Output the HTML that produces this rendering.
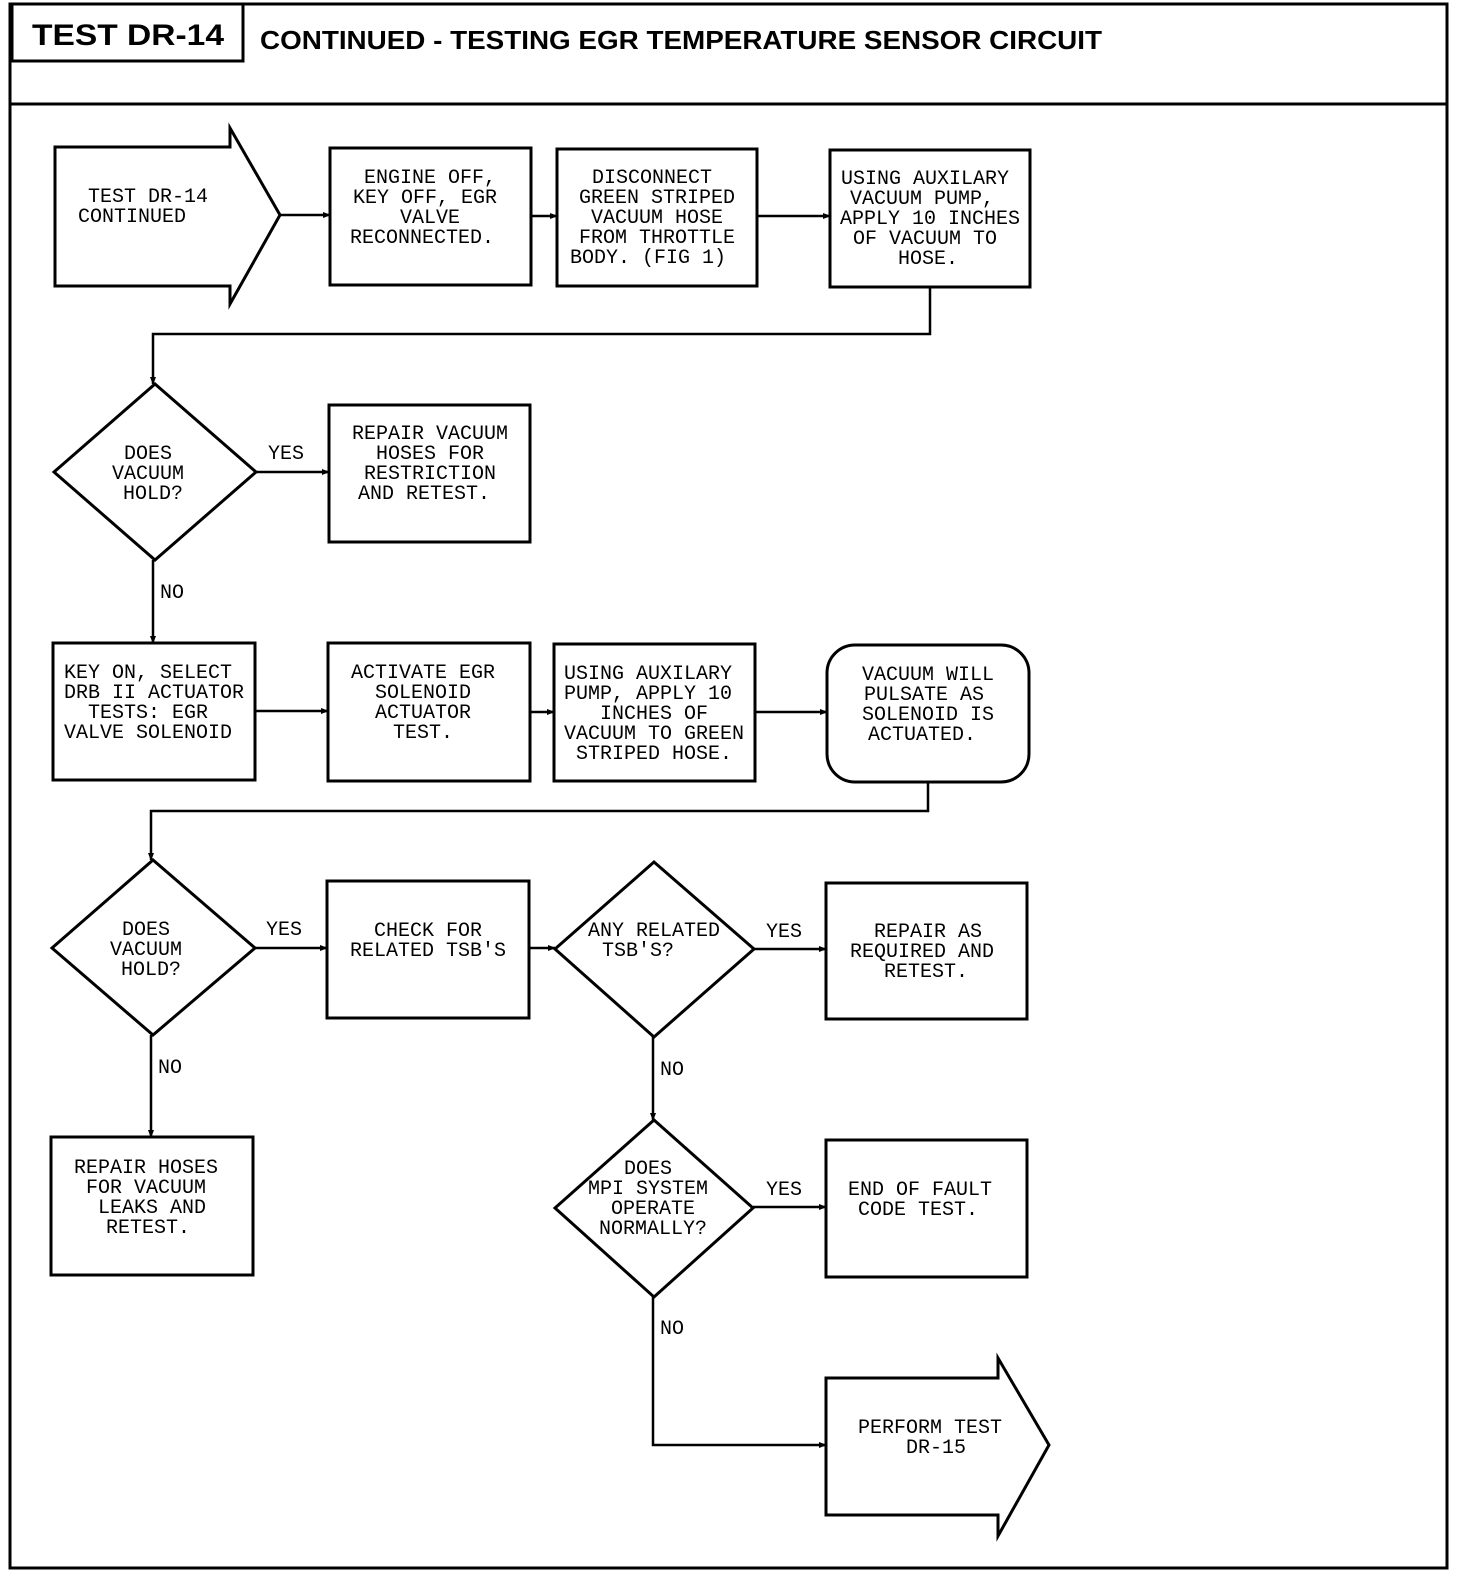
<!DOCTYPE html>
<html><head><meta charset="utf-8"><style>
html,body{margin:0;padding:0;background:#fff}
svg{display:block}
.t{font-family:"Liberation Mono",monospace;font-size:20px;fill:#000;text-anchor:middle}
.l{font-family:"Liberation Mono",monospace;font-size:20px;fill:#000}
</style></head><body>
<svg width="1472" height="1578" viewBox="0 0 1472 1578" xmlns="http://www.w3.org/2000/svg">
<defs><marker id="a" markerWidth="8" markerHeight="8" refX="7" refY="4" orient="auto" markerUnits="userSpaceOnUse"><path d="M0,1 L8,4 L0,7 z" fill="#000"/></marker></defs>
<g fill="none" stroke="#000" stroke-width="3">
<rect x="10" y="4" width="1437" height="1564"/>
<line x1="10" y1="104" x2="1447" y2="104"/>
<polyline points="12,4 12,61 243,61 243,4"/>
<path d="M55,147 H230 V128 L280,215 L230,304 V286 H55 Z"/>
<rect x="330" y="148" width="201" height="137"/>
<rect x="557" y="149" width="200" height="137"/>
<rect x="830" y="150" width="200" height="137"/>
<path d="M54,472 L155,384 L256,472 L155,560 Z"/>
<rect x="329" y="405" width="201" height="137"/>
<rect x="53" y="643" width="202" height="137"/>
<rect x="328" y="643" width="202" height="138"/>
<rect x="554" y="644" width="201" height="137"/>
<rect x="827" y="645" width="202" height="137" rx="28"/>
<path d="M52,948 L153,860 L255,948 L153,1035 Z"/>
<rect x="327" y="881" width="202" height="137"/>
<path d="M555,949 L654,862 L754,949 L654,1037 Z"/>
<rect x="826" y="883" width="201" height="136"/>
<path d="M555,1208 L654,1120 L753,1208 L654,1297 Z"/>
<rect x="826" y="1140" width="201" height="137"/>
<rect x="51" y="1137" width="202" height="138"/>
<path d="M826,1378 H998 V1358 L1049,1445 L998,1536 V1515 H826 Z"/>
</g>
<g fill="none" stroke="#000" stroke-width="2.5" marker-end="url(#a)">
<line x1="280" y1="215" x2="330" y2="215"/>
<line x1="531" y1="216" x2="557" y2="216"/>
<line x1="757" y1="216" x2="830" y2="216"/>
<polyline points="930,287 930,334 153,334 153,384"/>
<line x1="256" y1="472" x2="329" y2="472"/>
<line x1="153" y1="560" x2="153" y2="643"/>
<line x1="255" y1="711" x2="328" y2="711"/>
<line x1="530" y1="712" x2="554" y2="712"/>
<line x1="755" y1="712" x2="827" y2="712"/>
<polyline points="928,782 928,811 151,811 151,860"/>
<line x1="255" y1="948" x2="327" y2="948"/>
<line x1="529" y1="948" x2="555" y2="948"/>
<line x1="754" y1="949" x2="826" y2="949"/>
<line x1="653" y1="1037" x2="653" y2="1120"/>
<line x1="753" y1="1207" x2="826" y2="1207"/>
<polyline points="653,1297 653,1445 826,1445"/>
<line x1="151" y1="1035" x2="151" y2="1137"/>
</g>
<text x="128" y="45" font-family="Liberation Sans,sans-serif" font-weight="bold" font-size="30" text-anchor="middle" textLength="192" lengthAdjust="spacingAndGlyphs">TEST DR-14</text>
<text x="260" y="49" font-family="Liberation Sans,sans-serif" font-weight="bold" font-size="26" textLength="842" lengthAdjust="spacingAndGlyphs">CONTINUED - TESTING EGR TEMPERATURE SENSOR CIRCUIT</text>
<text class="t" x="148" y="202">TEST DR-14</text><text class="t" x="132" y="222">CONTINUED</text>
<text class="t" x="430" y="183">ENGINE OFF,</text><text class="t" x="425" y="203">KEY OFF, EGR</text><text class="t" x="430" y="223">VALVE</text><text class="t" x="422" y="243">RECONNECTED.</text>
<text class="t" x="652" y="183">DISCONNECT</text><text class="t" x="657" y="203">GREEN STRIPED</text><text class="t" x="657" y="223">VACUUM HOSE</text><text class="t" x="657" y="243">FROM THROTTLE</text><text class="t" x="648" y="263">BODY. (FIG 1)</text>
<text class="t" x="925" y="184">USING AUXILARY</text><text class="t" x="922" y="204">VACUUM PUMP,</text><text class="t" x="930" y="224">APPLY 10 INCHES</text><text class="t" x="925" y="244">OF VACUUM TO</text><text class="t" x="928" y="264">HOSE.</text>
<text class="t" x="148" y="459">DOES</text><text class="t" x="148" y="479">VACUUM</text><text class="t" x="153" y="499">HOLD?</text>
<text class="l" x="268" y="459">YES</text><text class="l" x="160" y="598">NO</text>
<text class="t" x="430" y="439">REPAIR VACUUM</text><text class="t" x="430" y="459">HOSES FOR</text><text class="t" x="430" y="479">RESTRICTION</text><text class="t" x="424" y="499">AND RETEST.</text>
<text class="t" x="148" y="678">KEY ON, SELECT</text><text class="t" x="154" y="698">DRB II ACTUATOR</text><text class="t" x="148" y="718">TESTS: EGR</text><text class="t" x="148" y="738">VALVE SOLENOID</text>
<text class="t" x="423" y="678">ACTIVATE EGR</text><text class="t" x="423" y="698">SOLENOID</text><text class="t" x="423" y="718">ACTUATOR</text><text class="t" x="423" y="738">TEST.</text>
<text class="t" x="648" y="679">USING AUXILARY</text><text class="t" x="648" y="699">PUMP, APPLY 10</text><text class="t" x="654" y="719">INCHES OF</text><text class="t" x="654" y="739">VACUUM TO GREEN</text><text class="t" x="654" y="759">STRIPED HOSE.</text>
<text class="t" x="928" y="680">VACUUM WILL</text><text class="t" x="924" y="700">PULSATE AS</text><text class="t" x="928" y="720">SOLENOID IS</text><text class="t" x="922" y="740">ACTUATED.</text>
<text class="t" x="146" y="935">DOES</text><text class="t" x="146" y="955">VACUUM</text><text class="t" x="151" y="975">HOLD?</text>
<text class="l" x="266" y="935">YES</text><text class="l" x="158" y="1073">NO</text>
<text class="t" x="428" y="936">CHECK FOR</text><text class="t" x="428" y="956">RELATED TSB'S</text>
<text class="t" x="654" y="936">ANY RELATED</text><text class="t" x="638" y="956">TSB'S?</text>
<text class="l" x="766" y="937">YES</text><text class="l" x="660" y="1075">NO</text>
<text class="t" x="928" y="937">REPAIR AS</text><text class="t" x="922" y="957">REQUIRED AND</text><text class="t" x="926" y="977">RETEST.</text>
<text class="t" x="648" y="1174">DOES</text><text class="t" x="648" y="1194">MPI SYSTEM</text><text class="t" x="653" y="1214">OPERATE</text><text class="t" x="653" y="1234">NORMALLY?</text>
<text class="l" x="766" y="1195">YES</text><text class="l" x="660" y="1334">NO</text>
<text class="t" x="920" y="1195">END OF FAULT</text><text class="t" x="918" y="1215">CODE TEST.</text>
<text class="t" x="146" y="1173">REPAIR HOSES</text><text class="t" x="146" y="1193">FOR VACUUM</text><text class="t" x="152" y="1213">LEAKS AND</text><text class="t" x="148" y="1233">RETEST.</text>
<text class="t" x="930" y="1433">PERFORM TEST</text><text class="t" x="936" y="1453">DR-15</text>
</svg>
</body></html>
